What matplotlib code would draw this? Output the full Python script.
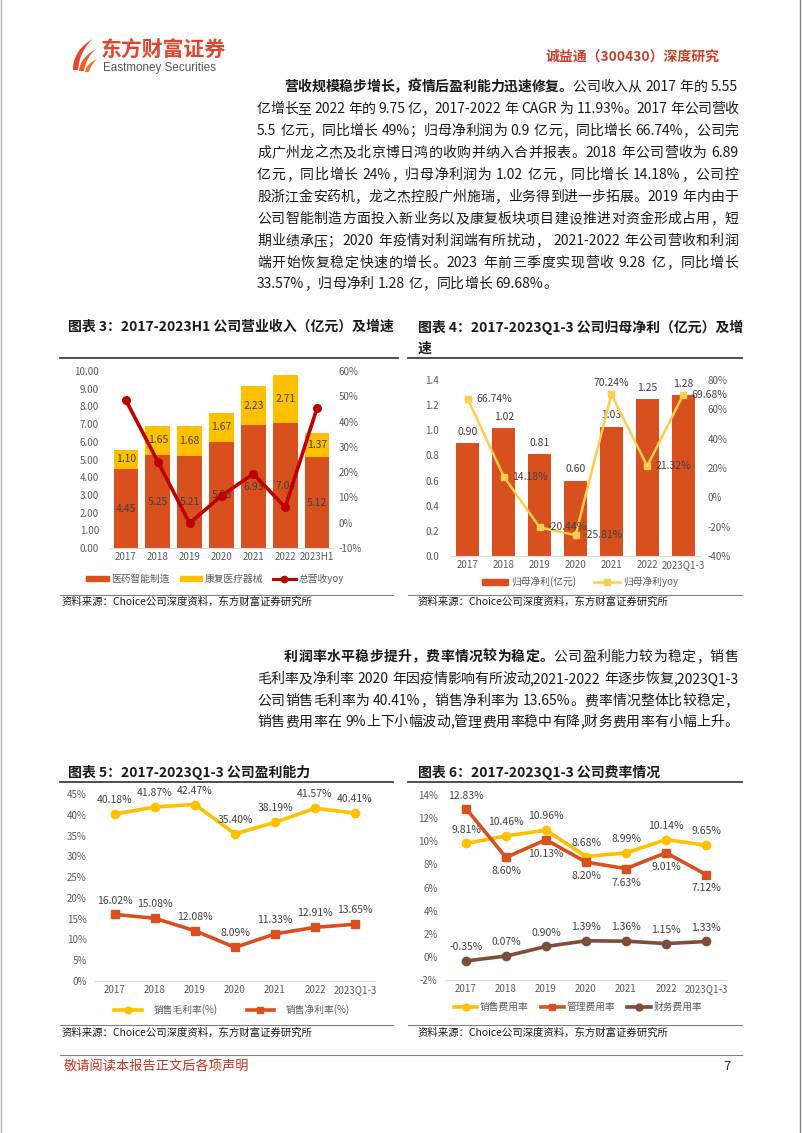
import matplotlib
matplotlib.use("Agg")
import matplotlib.pyplot as plt
import numpy as np
from matplotlib.patches import Polygon, Patch
from matplotlib.lines import Line2D

plt.rcParams['font.family'] = ['Noto Sans CJK SC', 'DejaVu Sans']
plt.rcParams['axes.unicode_minus'] = False

W, H = 802, 1133

# ── data ─────────────────────────────────────────────────────────────────────
years = ["2017", "2018", "2019", "2020", "2021", "2022"]
cats3 = years + ["2023H1"]
cats_q = years + ["2023Q1-3"]

rev_pharma = [4.45, 5.25, 5.21, 5.98, 6.93, 7.04, 5.12]      # 医药智能制造
rev_rehab = [1.10, 1.65, 1.68, 1.67, 2.23, 2.71, 1.37]       # 康复医疗器械
rev_yoy = [48.4, 24.2, -0.2, 10.7, 19.3, 6.1, 45.4]          # 总营收yoy (%)

np_val = [0.90, 1.02, 0.81, 0.60, 1.03, 1.25, 1.28]          # 归母净利(亿元)
np_yoy = [66.74, 14.18, -20.44, -25.81, 70.24, 21.32, 69.68]

gross_margin = [40.18, 41.87, 42.47, 35.40, 38.19, 41.57, 40.41]
net_margin = [16.02, 15.08, 12.08, 8.09, 11.33, 12.91, 13.65]

sales_rate = [9.81, 10.46, 10.96, 8.68, 8.99, 10.14, 9.65]
admin_rate = [12.83, 8.60, 10.13, 8.20, 7.63, 9.01, 7.12]
fin_rate = [-0.35, 0.07, 0.90, 1.39, 1.36, 1.15, 1.33]

para1 = [
    [("营收规模稳步增长，疫情后盈利能力迅速修复。", True), ("公司收入从 2017 年的 5.55", False)],
    [("亿增长至 2022 年的 9.75 亿，2017-2022 年 CAGR 为 11.93%。2017 年公司营收", False)],
    [("5.5 亿元，同比增长 49%；归母净利润为 0.9 亿元，同比增长 66.74%，公司完", False)],
    [("成广州龙之杰及北京博日鸿的收购并纳入合并报表。2018 年公司营收为 6.89", False)],
    [("亿元，同比增长 24%，归母净利润为 1.02 亿元，同比增长 14.18%，公司控", False)],
    [("股浙江金安药机，龙之杰控股广州施瑞，业务得到进一步拓展。2019 年内由于", False)],
    [("公司智能制造方面投入新业务以及康复板块项目建设推进对资金形成占用，短", False)],
    [("期业绩承压；2020 年疫情对利润端有所扰动， 2021-2022 年公司营收和利润", False)],
    [("端开始恢复稳定快速的增长。2023 年前三季度实现营收 9.28 亿，同比增长", False)],
    [("33.57%，归母净利 1.28 亿，同比增长 69.68%。", False)],
]
para2 = [
    [("利润率水平稳步提升，费率情况较为稳定。", True), ("公司盈利能力较为稳定，销售", False)],
    [("毛利率及净利率 2020 年因疫情影响有所波动,2021-2022 年逐步恢复,2023Q1-3", False)],
    [("公司销售毛利率为 40.41%，销售净利率为 13.65%。费率情况整体比较稳定，", False)],
    [("销售费用率在 9%上下小幅波动,管理费用率稳中有降,财务费用率有小幅上升。", False)],
]

# ── colours ──────────────────────────────────────────────────────────────────
C_RED = "#D9501F"
C_YEL = "#FFC000"
C_LYEL = "#FFCC4D"
C_DRED = "#C00000"
C_BRN = "#7E4E3B"
C_TXT = "#404040"
C_TICK = "#595959"

fig = plt.figure(figsize=(W / 100, H / 100), dpi=100)
R = fig.canvas.get_renderer()

def fx(x): return x / W
def fy(y): return 1 - y / H

def ax_at(x0, y0, x1, y1):
    return fig.add_axes([fx(x0), fy(y1), (x1 - x0) / W, (y1 - y0) / H])

def hline(x0, x1, y, color="#404040", lw=1.0):
    fig.add_artist(Line2D([fx(x0), fx(x1)], [fy(y), fy(y)], color=color, lw=lw,
                          transform=fig.transFigure))

# ── justified body text ──────────────────────────────────────────────────────
def tokens(s):
    out, buf = [], ""
    for ch in s:
        if ch == " ":
            if buf: out.append(buf); buf = ""
            out.append(" ")
        elif ord(ch) < 128:
            buf += ch
        else:
            if buf: out.append(buf); buf = ""
            out.append(ch)
    if buf: out.append(buf)
    return out

def text_line(segs, x0, x1, y, size=10, justify=True):
    items = []
    for s, bold in segs:
        for t in tokens(s):
            items.append((t, bold))
    widths = []
    for t, bold in items:
        if t == " ":
            widths.append(size * 100 / 72 * 0.28)
            continue
        tt = fig.text(0, 0, t, fontsize=size, fontweight="bold" if bold else "normal")
        widths.append(tt.get_window_extent(R).width)
        tt.remove()
    gap = 0
    if justify and len(items) > 1:
        gap = ((x1 - x0) - sum(widths)) / (len(items) - 1)
    x = x0
    for (t, bold), w in zip(items, widths):
        if t != " ":
            fig.text(fx(x), fy(y), t, fontsize=size, va="center", ha="left",
                     fontweight="bold" if bold else "normal", color="#1a1a1a")
        x += w + gap

ys1 = [87, 109, 131, 153, 175, 197, 219, 241, 263, 284]
for i, (segs, y) in enumerate(zip(para1, ys1)):
    text_line(segs, 284 if i == 0 else 257, 738, y, justify=i < len(para1) - 1)
ys2 = [657, 679, 701, 722]
for i, (segs, y) in enumerate(zip(para2, ys2)):
    text_line(segs, 284 if i == 0 else 257, 738, y, justify=True)

# ── header / footer ──────────────────────────────────────────────────────────
def blade(bl, br, tip, c1, c2, color):
    t = np.linspace(0, 1, 20)[:, None]
    bl, br, tip, c1, c2 = map(np.array, (bl, br, tip, c1, c2))
    outer = (1 - t) ** 2 * bl + 2 * (1 - t) * t * c1 + t ** 2 * tip
    inner = (1 - t) ** 2 * br + 2 * (1 - t) * t * c2 + t ** 2 * tip
    pts = np.vstack([outer, inner[::-1]])
    fig.add_artist(Polygon([(fx(a), fy(b)) for a, b in pts], closed=True, color=color,
                           transform=fig.transFigure, lw=0))

blade((73, 70), (78, 70), (93, 39), (73, 50), (80, 50), "#E8472A")
blade((79, 71), (84, 71), (96, 49), (80, 58), (86, 58), "#EE5F2C")
blade((85, 72), (89, 72), (97, 59), (86, 64), (91, 65), "#F2772F")
fig.text(fx(101), fy(50), "东方财富证券", fontsize=15, fontweight="bold", color="#E2452B",
         va="center", ha="left")
fig.text(fx(103), fy(68), "Eastmoney Securities", fontsize=8.4, color="#555555",
         va="center", ha="left", family=["Liberation Sans", "DejaVu Sans"])
fig.text(fx(720), fy(57), "诚益通（300430）深度研究", fontsize=10, color="#C8402A",
         va="center", ha="right", fontweight="bold")

hline(60, 742, 1055, color="#808080", lw=0.8)
fig.text(fx(64), fy(1067), "敬请阅读本报告正文后各项声明", fontsize=9.5, color="#C8321E",
         va="center", ha="left")
fig.text(fx(727), fy(1066), "7", fontsize=9.5, color="#333333", va="center", ha="center")
fig.add_artist(Line2D([fx(800), fx(800)], [0, 1], color="#808080", lw=1,
                      transform=fig.transFigure))
fig.add_artist(Line2D([fx(1), fx(1)], [0, 1], color="#b0b0b0", lw=1,
                      transform=fig.transFigure))

# ── chart titles / source lines ──────────────────────────────────────────────
def title(x, y, s):
    fig.text(fx(x), fy(y), s, fontsize=10, fontweight="bold", color="#1a1a1a",
             va="center", ha="left")

SRC = "资料来源：Choice公司深度资料，东方财富证券研究所"
title(68, 327, "图表 3：2017-2023H1 公司营业收入（亿元）及增速")
title(418, 327, "图表 4：2017-2023Q1-3 公司归母净利（亿元）及增")
title(418, 349, "速")
hline(60, 398, 358, lw=1.3)
hline(408, 742, 358, lw=1.3)
hline(60, 393, 595, color="#808080", lw=0.8)
hline(408, 742, 595, color="#808080", lw=0.8)
fig.text(fx(62), fy(602), SRC, fontsize=7.5, va="center", ha="left", color="#1a1a1a")
fig.text(fx(418), fy(602), SRC, fontsize=7.5, va="center", ha="left", color="#1a1a1a")

title(68, 772, "图表 5：2017-2023Q1-3 公司盈利能力")
title(418, 772, "图表 6：2017-2023Q1-3 公司费率情况")
hline(60, 393, 782, lw=1.3)
hline(408, 742, 782, lw=1.3)
hline(60, 393, 1025, color="#808080", lw=0.8)
hline(408, 742, 1025, color="#808080", lw=0.8)
fig.text(fx(62), fy(1033), SRC, fontsize=7.5, va="center", ha="left", color="#1a1a1a")
fig.text(fx(418), fy(1033), SRC, fontsize=7.5, va="center", ha="left", color="#1a1a1a")

def style(ax, pad_y=7, pad_x=3):
    for s in ["top", "left", "right"]:
        ax.spines[s].set_visible(False)
    ax.spines["bottom"].set_color("#D9D9D9")
    ax.tick_params(axis="both", length=0, labelsize=7, labelcolor=C_TICK)
    ax.tick_params(axis="y", pad=pad_y)
    ax.tick_params(axis="x", pad=pad_x)
    ax.set_facecolor("none")

def twin_style(ax, pad=4):
    for s in ["top", "left", "right", "bottom"]:
        ax.spines[s].set_visible(False)
    ax.tick_params(axis="y", length=0, labelsize=7, labelcolor=C_TICK, pad=pad)

# ── chart 3 ──────────────────────────────────────────────────────────────────
x = np.arange(len(cats3))
ax3 = ax_at(110, 371, 333, 548)
ax3.bar(x, rev_pharma, 0.78, color=C_RED)
ax3.bar(x, rev_rehab, 0.78, bottom=rev_pharma, color=C_YEL)
for i in range(len(x)):
    ax3.text(x[i], rev_pharma[i] / 2, f"{rev_pharma[i]:.2f}", ha="center", va="center",
             fontsize=7.5, color=C_TXT)
    ax3.text(x[i], rev_pharma[i] + rev_rehab[i] / 2, f"{rev_rehab[i]:.2f}", ha="center",
             va="center", fontsize=7.5, color=C_TXT)
ax3.set_xlim(-0.5, len(x) - 0.5)
ax3.set_ylim(0, 10)
ax3.set_yticks(np.arange(0, 11, 1))
ax3.set_yticklabels([f"{v:.2f}" for v in np.arange(0, 11, 1)])
ax3.set_xticks(x)
ax3.set_xticklabels(cats3)
style(ax3, pad_y=8)
ax3b = ax3.twinx()
ax3b.plot(x, rev_yoy, color=C_DRED, lw=2.6, marker="o", ms=5.5)
ax3b.set_ylim(-10, 60)
ax3b.set_yticks(range(-10, 61, 10))
ax3b.set_yticklabels([f"{v}%" for v in range(-10, 61, 10)])
twin_style(ax3b, pad=4)
h3 = [Patch(color=C_RED), Patch(color=C_YEL),
      Line2D([], [], color=C_DRED, lw=2.2, marker="o", ms=4.5)]
fig.legend(h3, ["医药智能制造", "康复医疗器械", "总营收yoy"], loc="center",
           bbox_to_anchor=(fx(215), fy(579)), ncol=3, frameon=False, fontsize=7,
           labelcolor=C_TICK, handlelength=2.3, handleheight=0.45, columnspacing=1.0,
           handletextpad=0.3)

# ── chart 4 ──────────────────────────────────────────────────────────────────
ax4 = ax_at(450, 380, 701, 556)
ax4.bar(x, np_val, 0.64, color=C_RED)
for i in range(len(x)):
    ax4.annotate(f"{np_val[i]:.2f}", (x[i], np_val[i]), xytext=(0, 8),
                 textcoords="offset points", ha="center", va="center", fontsize=7.5,
                 color=C_TXT)
ax4.set_xlim(-0.5, len(x) - 0.5)
ax4.set_ylim(0, 1.4)
ax4.set_yticks(np.arange(0, 1.41, 0.2))
ax4.set_yticklabels([f"{v:.1f}" for v in np.arange(0, 1.41, 0.2)])
ax4.set_xticks(x)
ax4.set_xticklabels(cats_q)
style(ax4, pad_y=8)
ax4b = ax4.twinx()
ax4b.plot(x, np_yoy, color=C_LYEL, lw=1.8, marker="s", ms=5)
for i in range(len(x)):
    if i == 4:
        ax4b.annotate(f"{np_yoy[i]:.2f}%", (x[i], np_yoy[i]), xytext=(0, 8),
                      textcoords="offset points", ha="center", va="center",
                      fontsize=7.5, color=C_TXT)
    else:
        ax4b.annotate(f"{np_yoy[i]:.2f}%", (x[i], np_yoy[i]), xytext=(6, 0),
                      textcoords="offset points", ha="left", va="center",
                      fontsize=7.5, color=C_TXT)
ax4b.set_ylim(-40, 80)
ax4b.set_yticks(range(-40, 81, 20))
ax4b.set_yticklabels([f"{v}%" for v in range(-40, 81, 20)])
twin_style(ax4b, pad=5)
h4 = [Patch(color=C_RED), Line2D([], [], color=C_LYEL, lw=1.8, marker="s", ms=4.5)]
fig.legend(h4, ["归母净利(亿元)", "归母净利yoy"], loc="center",
           bbox_to_anchor=(fx(580), fy(582)), ncol=2, frameon=False, fontsize=7,
           labelcolor=C_TICK, handlelength=2.7, handleheight=0.45, columnspacing=1.9,
           handletextpad=0.3)

# ── chart 5 ──────────────────────────────────────────────────────────────────
ax5 = ax_at(95, 794, 375, 981)
ax5.plot(x, gross_margin, color=C_YEL, lw=2.6, marker="o", ms=6)
ax5.plot(x, net_margin, color=C_RED, lw=2.6, marker="s", ms=6)
for ser in (gross_margin, net_margin):
    for i in range(len(x)):
        ax5.annotate(f"{ser[i]:.2f}%", (x[i], ser[i]), xytext=(0, 10),
                     textcoords="offset points", ha="center", va="center",
                     fontsize=7.5, color=C_TXT)
ax5.set_xlim(-0.5, len(x) - 0.5)
ax5.set_ylim(0, 45)
ax5.set_yticks(range(0, 46, 5))
ax5.set_yticklabels([f"{v}%" for v in range(0, 46, 5)])
ax5.set_xticks(x)
ax5.set_xticklabels(cats_q)
style(ax5, pad_y=6)
h5 = [Line2D([], [], color=C_YEL, lw=2.6, marker="o", ms=5),
      Line2D([], [], color=C_RED, lw=2.6, marker="s", ms=5)]
fig.legend(h5, ["销售毛利率(%)", "销售净利率(%)"], loc="center",
           bbox_to_anchor=(fx(232), fy(1010)), ncol=2, frameon=False, fontsize=7,
           labelcolor=C_TICK, handlelength=2.8, columnspacing=3.0, handletextpad=1.2)

# ── chart 6 ──────────────────────────────────────────────────────────────────
ax6 = ax_at(446, 795, 726, 980)
ax6.plot(x, sales_rate, color=C_YEL, lw=2.6, marker="o", ms=6)
ax6.plot(x, admin_rate, color=C_RED, lw=2.6, marker="s", ms=6)
ax6.plot(x, fin_rate, color=C_BRN, lw=2.6, marker="o", ms=6)
for i in range(len(x)):
    ax6.annotate(f"{sales_rate[i]:.2f}%", (x[i], sales_rate[i]), xytext=(0, 10),
                 textcoords="offset points", ha="center", va="center", fontsize=7.5,
                 color=C_TXT)
    dy = 9 if i == 0 else -10
    ax6.annotate(f"{admin_rate[i]:.2f}%", (x[i], admin_rate[i]), xytext=(0, dy),
                 textcoords="offset points", ha="center", va="center", fontsize=7.5,
                 color=C_TXT)
    ax6.annotate(f"{fin_rate[i]:.2f}%", (x[i], fin_rate[i]), xytext=(0, 10),
                 textcoords="offset points", ha="center", va="center", fontsize=7.5,
                 color=C_TXT)
ax6.set_xlim(-0.5, len(x) - 0.5)
ax6.set_ylim(-2, 14)
ax6.set_yticks(range(-2, 15, 2))
ax6.set_yticklabels([f"{v}%" for v in range(-2, 15, 2)])
ax6.set_xticks(x)
ax6.set_xticklabels(cats_q)
style(ax6, pad_y=6)
h6 = [Line2D([], [], color=C_YEL, lw=2.6, marker="o", ms=5),
      Line2D([], [], color=C_RED, lw=2.6, marker="s", ms=5),
      Line2D([], [], color=C_BRN, lw=2.6, marker="o", ms=5)]
fig.legend(h6, ["销售费用率", "管理费用率", "财务费用率"], loc="center",
           bbox_to_anchor=(fx(578), fy(1007)), ncol=3, frameon=False, fontsize=7,
           labelcolor=C_TICK, handlelength=2.4, columnspacing=1.2, handletextpad=0.3)

fig.savefig("out.png", dpi=100)
